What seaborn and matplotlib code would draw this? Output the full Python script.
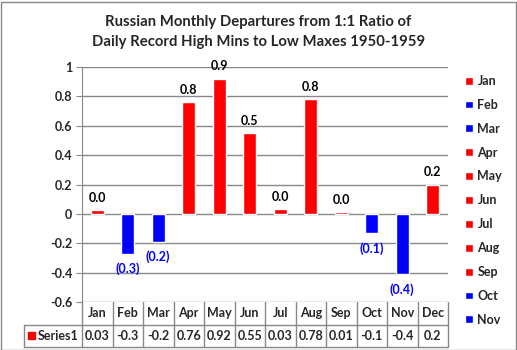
import numpy as np
import pandas as pd
import matplotlib
matplotlib.use("Agg")
import matplotlib.pyplot as plt
import seaborn as sns
from matplotlib.patches import Patch, Rectangle

months = ['Jan', 'Feb', 'Mar', 'Apr', 'May', 'Jun',
          'Jul', 'Aug', 'Sep', 'Oct', 'Nov', 'Dec']
values = [0.025, -0.27, -0.19, 0.76, 0.92, 0.55,
          0.03, 0.78, 0.01, -0.13, -0.41, 0.2]
table_labels = ['0.03', '-0.3', '-0.2', '0.76', '0.92', '0.55',
                '0.03', '0.78', '0.01', '-0.1', '-0.4', '0.2']
bar_labels = ['0.0', '(0.3)', '(0.2)', '0.8', '0.9', '0.5',
              '0.0', '0.8', '0.0', '(0.1)', '(0.4)', '0.2']
legend_months = months[:11]

sns.set_style('white')
plt.rcParams['font.family'] = ['Lato', 'DejaVu Sans']
plt.rcParams['font.weight'] = 'bold'

df = pd.DataFrame({'month': months, 'value': values})
df['sign'] = np.where(df['value'] >= 0, 'pos', 'neg')
colors = {'pos': '#ff0000', 'neg': '#0000ff'}

W, H = 517, 350
fig = plt.figure(figsize=(W / 100, H / 100), dpi=100)
fig.patches.append(Rectangle((0.5 / W, 0.5 / H), 1 - 2 / W, 1 - 2 / H,
                             transform=fig.transFigure, fill=False,
                             edgecolor='#888888', lw=1))

x0, x1, y0, y1 = 82, 448, 67, 302
ax = fig.add_axes([x0 / W, 1 - y1 / H, (x1 - x0) / W, (y1 - y0) / H])

sns.barplot(data=df, x='month', y='value', hue='sign', palette=colors,
            dodge=False, legend=False, width=0.42, ax=ax, saturation=1)

ax.set_xlim(-0.5, 11.5)
ax.set_ylim(-0.6, 1.0)
ax.set_yticks(np.arange(-0.6, 1.01, 0.2))
ax.set_yticklabels(['-0.6', '-0.4', '-0.2', '0', '0.2', '0.4', '0.6', '0.8', '1'],
                   fontsize=9, fontweight='bold')
ax.set_xticks([])
ax.set_xlabel('')
ax.set_ylabel('')
ax.grid(axis='y', color='#888888', lw=1)
ax.set_axisbelow(True)
for s in ['top', 'right', 'bottom']:
    ax.spines[s].set_visible(False)
ax.spines['left'].set_color('#888888')
ax.tick_params(axis='y', left=True, length=4, color='#888888', pad=3)

for i, (v, lab) in enumerate(zip(values, bar_labels)):
    if v >= 0:
        ax.annotate(lab, (i, v), xytext=(0, 9), textcoords='offset points',
                    ha='center', va='center', fontsize=9, fontweight='bold',
                    color='black')
    else:
        ax.annotate(lab, (i, v), xytext=(0, -11), textcoords='offset points',
                    ha='center', va='center', fontsize=9, fontweight='bold',
                    color='#0000ff')

# data table under the plot
tx0, ty1 = 24, 347
unit = (x1 - x0) / 12
tab = fig.add_axes([tx0 / W, 1 - ty1 / H, (x1 - tx0) / W, (ty1 - y1) / H])
left_lim = -0.5 - (x0 - tx0) / unit
tab.set_xlim(left_lim, 11.5)
tab.set_ylim(0, 2)
tab.axis('off')
gc = '#888888'
for k in range(13):
    tab.plot([k - 0.5, k - 0.5], [0, 2], color=gc, lw=1, clip_on=False)
tab.plot([left_lim, 11.5], [1, 1], color=gc, lw=1, clip_on=False)
tab.plot([left_lim, 11.5], [0, 0], color=gc, lw=1, clip_on=False)
tab.plot([left_lim, left_lim], [0, 1], color=gc, lw=1, clip_on=False)
for i, m in enumerate(months):
    tab.text(i, 1.5, m, ha='center', va='center', fontsize=9, fontweight='bold')
    tab.text(i, 0.5, table_labels[i], ha='center', va='center', fontsize=9,
             fontweight='bold')
tab.add_patch(Rectangle((left_lim + 4 / unit, 0.36), 6.5 / unit, 0.3,
                        color='#ff0000'))
tab.text(left_lim + 14 / unit, 0.5, 'Series1', ha='left', va='center',
         fontsize=9, fontweight='bold')

handles = [Patch(facecolor=colors['pos'] if values[i] >= 0 else colors['neg'],
                 label=m) for i, m in enumerate(legend_months)]
fig.legend(handles=handles, loc='upper left', bbox_to_anchor=(460 / W, 1 - 70 / H),
           frameon=False, fontsize=9, handlelength=0.6, handleheight=0.6,
           handletextpad=0.4, labelspacing=0.95, borderaxespad=0)

fig.text(0.5, 1 - 22 / H, 'Russian Monthly Departures from 1:1 Ratio of',
         ha='center', va='center', fontsize=10.7, fontweight='bold')
fig.text(0.5, 1 - 42 / H, 'Daily Record High Mins to Low Maxes 1950-1959',
         ha='center', va='center', fontsize=10.7, fontweight='bold')

fig.savefig('out.png', dpi=100)
